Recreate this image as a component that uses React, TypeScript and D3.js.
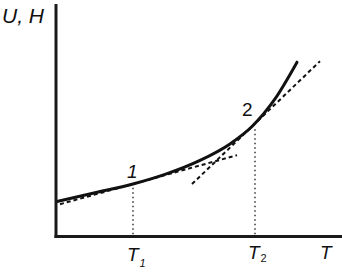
import React from "react";
import * as d3 from "d3";

// Curve U,H(T) in arbitrary units
const curveT = [0.35, 13.64, 26.92, 38.11, 50.35, 60.84, 68.53, 76.57, 84.27];
const curveU = [15.05, 18.8, 22.58, 26.71, 32.73, 39.83, 47.31, 59.18, 74.97];

// Tangent lines (end points)
const tangent1T = [1.4, 63.29];
const tangent1U = [13.89, 34.97];
const tangent2T = [47.55, 92.31];
const tangent2U = [22.54, 75.4];

// Marked points
const pointT = [26.92, 69.58];
const pointU = [21.8, 47.0];
const pointLabels = ["1", "2"];
const tickLabels = ["1", "2"];

const W = 342;
const H = 272;

export default function App() {
  const x = d3.scaleLinear().domain([0, 100]).range([56, 342]);
  const y = d3.scaleLinear().domain([0, 100]).range([236.5, 4]);

  const curvePts: [number, number][] = curveT.map((t, i) => [t, curveU[i]]);
  const line = d3
    .line<[number, number]>()
    .x((d) => x(d[0]))
    .y((d) => y(d[1]))
    .curve(d3.curveMonotoneX);

  const t1: [number, number][] = tangent1T.map((t, i) => [t, tangent1U[i]]);
  const t2: [number, number][] = tangent2T.map((t, i) => [t, tangent2U[i]]);
  const straight = d3
    .line<[number, number]>()
    .x((d) => x(d[0]))
    .y((d) => y(d[1]));

  const font = "'Liberation Sans', Arial, sans-serif";

  return (
    <svg
      width={W}
      height={H}
      style={{ position: "absolute", left: 0, top: 0, background: "#fff" }}
      fontFamily={font}
    >
      {/* dotted verticals */}
      {pointT.map((t, i) => (
        <line
          key={"v" + i}
          x1={x(t)}
          x2={x(t)}
          y1={y(pointU[i]) + 2}
          y2={y(0)}
          stroke="#000"
          strokeWidth={1.2}
          strokeDasharray="1.5 3"
        />
      ))}
      {/* tangents */}
      <path d={straight(t1) || ""} fill="none" stroke="#111" strokeWidth={2} strokeDasharray="4 3" />
      <path d={straight(t2) || ""} fill="none" stroke="#111" strokeWidth={2} strokeDasharray="4 3" />
      {/* curve */}
      <path d={line(curvePts) || ""} fill="none" stroke="#111" strokeWidth={3} strokeLinecap="round" />
      {/* axes */}
      <line x1={x(0)} x2={x(0)} y1={y(100)} y2={y(0) + 1.5} stroke="#1a1a1a" strokeWidth={3} />
      <line x1={x(0) - 1.5} x2={x(100)} y1={y(0)} y2={y(0)} stroke="#1a1a1a" strokeWidth={3} />
      {/* axis labels */}
      <text x={2} y={23} fontSize={21} fontStyle="italic" fill="#111">U, H</text>
      <text x={320} y={259} fontSize={19} fontStyle="italic" fill="#111">T</text>
      {/* point labels */}
      <text x={x(pointT[0]) - 6} y={178} fontSize={19} fontStyle="italic" fill="#111">{pointLabels[0]}</text>
      <text x={x(pointT[1]) - 13} y={116} fontSize={19} fill="#111">{pointLabels[1]}</text>
      {/* tick labels T1, T2 */}
      <text x={x(pointT[0]) - 6} y={261} fontSize={19} fontStyle="italic" fill="#111">
        T
        <tspan fontSize={11} dx={1} dy={6}>{tickLabels[0]}</tspan>
      </text>
      <text x={x(pointT[1]) - 7} y={259} fontSize={19} fontStyle="italic" fill="#111">
        T
        <tspan fontSize={11} dx={1} dy={3} fontStyle="normal">{tickLabels[1]}</tspan>
      </text>
    </svg>
  );
}
